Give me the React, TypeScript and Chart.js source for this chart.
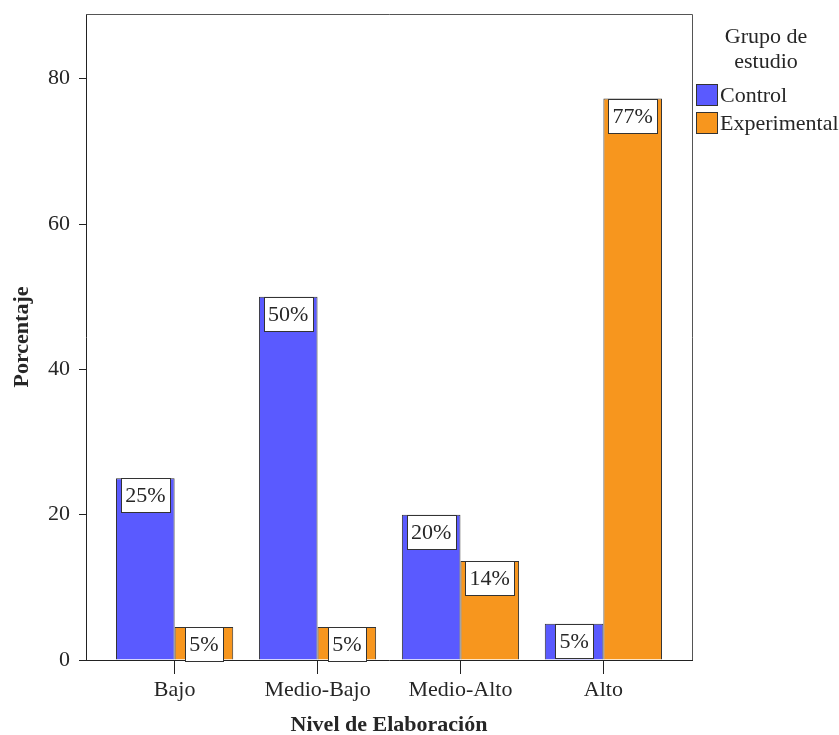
import React, { useEffect, useRef } from 'react';
import { Chart, registerables } from 'chart.js';

Chart.register(...registerables);

const categories = ['Bajo', 'Medio-Bajo', 'Medio-Alto', 'Alto'];
const controlValues = [25, 50, 20, 5];
const experimentalValues = [4.55, 4.55, 13.64, 77.27];
const controlLabels = ['25%', '50%', '20%', '5%'];
const experimentalLabels = ['5%', '5%', '14%', '77%'];
const yTickValues = [0, 20, 40, 60, 80];
const seriesNames = ['Control', 'Experimental'];
const seriesColors = ['#5A5AFF', '#F7961E'];
const legendTitle = ['Grupo de', 'estudio'];
const xTitle = 'Nivel de Elaboración';
const yTitle = 'Porcentaje';

const FONT_FAMILY = "'Liberation Serif', 'Times New Roman', serif";
const FONT_SIZE = 22;
const TEXT_COLOR = '#262626';
const LINE_COLOR = '#222';

const labelPlugin = {
  id: 'barLabels',
  afterDatasetsDraw(chart: any) {
    const ctx = chart.ctx;
    const allLabels = [controlLabels, experimentalLabels];
    ctx.save();
    ctx.font = `${FONT_SIZE}px ${FONT_FAMILY}`;
    chart.data.datasets.forEach((_: any, di: number) => {
      const meta = chart.getDatasetMeta(di);
      meta.data.forEach((el: any, i: number) => {
        const text = allLabels[di][i];
        const tw = ctx.measureText(text).width;
        const w = Math.round(tw + 9);
        const h = 34;
        const x = Math.round(el.x - w / 2) + 0.5;
        const y = Math.round(el.y) + 0.5;
        ctx.fillStyle = '#fff';
        ctx.fillRect(x, y, w, h);
        ctx.strokeStyle = '#333';
        ctx.lineWidth = 1;
        ctx.strokeRect(x, y, w, h);
        ctx.fillStyle = TEXT_COLOR;
        ctx.textAlign = 'center';
        ctx.textBaseline = 'middle';
        ctx.fillText(text, el.x, y + h / 2 + 1);
      });
    });
    ctx.restore();
  },
};

const decorPlugin = {
  id: 'decor',
  afterDraw(chart: any) {
    const ctx = chart.ctx;
    const a = chart.chartArea;
    ctx.save();
    ctx.strokeStyle = '#555';
    ctx.lineWidth = 1;
    ctx.beginPath();
    ctx.moveTo(a.left, Math.round(a.top) + 0.5);
    ctx.lineTo(Math.round(a.right) + 0.5, Math.round(a.top) + 0.5);
    ctx.lineTo(Math.round(a.right) + 0.5, a.bottom);
    ctx.stroke();

    ctx.fillStyle = TEXT_COLOR;
    ctx.font = `bold ${FONT_SIZE}px ${FONT_FAMILY}`;
    ctx.textAlign = 'center';
    ctx.textBaseline = 'middle';
    ctx.fillText(xTitle, (a.left + a.right) / 2, 725);
    ctx.save();
    ctx.translate(22, (a.top + a.bottom) / 2);
    ctx.rotate(-Math.PI / 2);
    ctx.fillText(yTitle, 0, 0);
    ctx.restore();

    ctx.font = `${FONT_SIZE}px ${FONT_FAMILY}`;
    ctx.textAlign = 'center';
    legendTitle.forEach((t, i) => ctx.fillText(t, 766, 37 + i * 25));
    ctx.textAlign = 'left';
    seriesNames.forEach((name, i) => {
      const by = 84 + i * 28;
      ctx.fillStyle = seriesColors[i];
      ctx.fillRect(696.5, by + 0.5, 21, 21);
      ctx.strokeStyle = '#333';
      ctx.strokeRect(696.5, by + 0.5, 21, 21);
      ctx.fillStyle = TEXT_COLOR;
      ctx.fillText(name, 720, by + 12);
    });
    ctx.restore();
  },
};

export default function App() {
  const ref = useRef<HTMLCanvasElement | null>(null);

  useEffect(() => {
    if (!ref.current) return;
    const font = { family: FONT_FAMILY, size: FONT_SIZE };
    const chart = new Chart(ref.current, {
      type: 'bar',
      data: {
        datasets: [
          {
            label: seriesNames[0],
            data: controlValues.map((v, i) => ({ x: i, y: v })),
            backgroundColor: seriesColors[0],
            borderColor: '#333',
            borderWidth: 1,
          },
          {
            label: seriesNames[1],
            data: experimentalValues.map((v, i) => ({ x: i, y: v })),
            backgroundColor: seriesColors[1],
            borderColor: '#333',
            borderWidth: 1,
          },
        ],
      } as any,
      options: {
        responsive: false,
        animation: false,
        layout: { padding: { left: 0, right: 147, top: 14, bottom: 0 } },
        plugins: { legend: { display: false }, tooltip: { enabled: false } },
        datasets: { bar: { categoryPercentage: 0.82, barPercentage: 1 } },
        scales: {
          x: {
            type: 'linear',
            min: -0.62,
            max: 3.62,
            offset: false,
            afterBuildTicks: (s: any) => {
              s.ticks = categories.map((_, i) => ({ value: i }));
            },
            afterFit: (s: any) => {
              s.height = 75;
              s.paddingLeft = 0;
              s.paddingRight = 0;
            },
            ticks: {
              callback: (v: any) => categories[v] ?? '',
              font,
              color: TEXT_COLOR,
              padding: 3,
              autoSkip: false,
              maxRotation: 0,
            },
            grid: { offset: false, drawOnChartArea: false, drawTicks: true, tickLength: 14, color: LINE_COLOR },
            border: { display: true, color: LINE_COLOR },
          },
          y: {
            min: 0,
            max: 88.9,
            afterBuildTicks: (s: any) => {
              s.ticks = yTickValues.map((v) => ({ value: v }));
            },
            afterFit: (s: any) => {
              s.width = 86;
              s.paddingTop = 0;
              s.paddingBottom = 0;
            },
            ticks: { font, color: TEXT_COLOR, padding: 9 },
            grid: { drawOnChartArea: false, drawTicks: true, tickLength: 7, color: LINE_COLOR },
            border: { display: true, color: LINE_COLOR },
          },
        },
      } as any,
      plugins: [labelPlugin, decorPlugin],
    });
    return () => chart.destroy();
  }, []);

  return (
    <div style={{ position: 'absolute', left: 0, top: 0, width: 839, height: 735, background: '#fff' }}>
      <canvas ref={ref} width={839} height={735} style={{ display: 'block', width: 839, height: 735 }} />
    </div>
  );
}
